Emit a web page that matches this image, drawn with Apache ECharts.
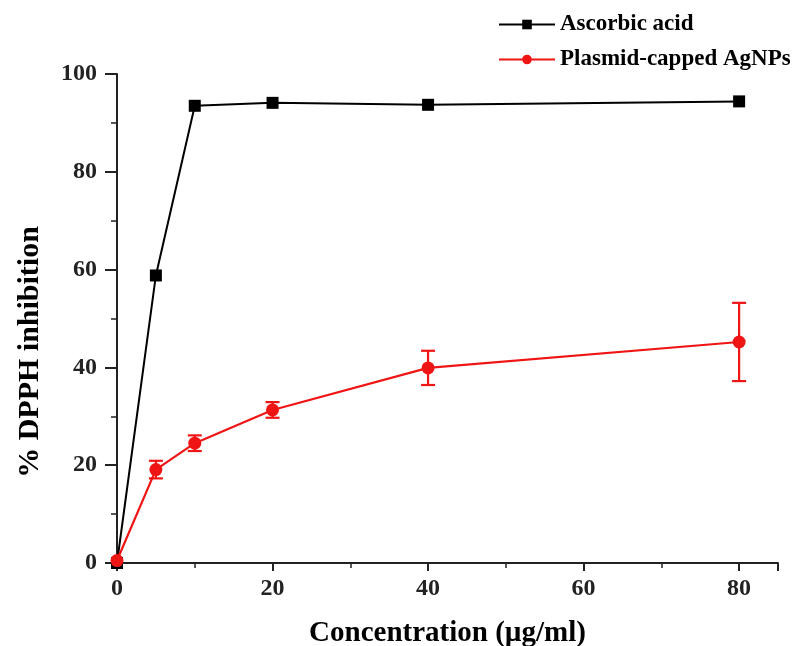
<!DOCTYPE html>
<html><head><meta charset="utf-8">
<script src="https://cdn.jsdelivr.net/npm/echarts@6/dist/echarts.min.js"></script>
<style>html,body{margin:0;padding:0;background:#fff}#c{width:800px;height:646px}</style>
</head><body><div id="c"></div>
<script>
var concentrations = [0, 5, 10, 20, 40, 80];
var ascorbicAcid = [0, 58.8, 93.5, 94.1, 93.7, 94.4];
var agnps = [0.5, 19.1, 24.5, 31.3, 39.9, 45.2];
var agnpsErr = [0, 1.8, 1.6, 1.6, 3.5, 8.0];
var seriesNames = ['Ascorbic acid', 'Plasmid-capped AgNPs'];
var xTitle = 'Concentration (\u00b5g/ml)';
var yTitle = '% DPPH inhibition';

var font = '"Liberation Serif","Times New Roman",serif';
var ascData = concentrations.map(function(x,i){return [x, ascorbicAcid[i]];});
var agData = concentrations.map(function(x,i){return [x, agnps[i]];});
var errData = concentrations.map(function(x,i){return [x, agnps[i]-agnpsErr[i], agnps[i]+agnpsErr[i]];}).filter(function(d,i){return agnpsErr[i]>0;});

var chart = echarts.init(document.getElementById('c'));
chart.setOption({
  animation:false,
  backgroundColor:'#fff',
  grid:{left:117,right:22,top:74,bottom:83,containLabel:false,outerBoundsMode:'none'},
  legend:{
    orient:'vertical', left:493, top:8, itemGap:12, itemWidth:56, itemHeight:12,
    textStyle:{fontFamily:font, fontWeight:'bold', fontSize:23, color:'#000'},
    data:seriesNames
  },
  graphic:[{
    type:'text', x:30, y:352, rotation:Math.PI/2,
    style:{text:yTitle, fontFamily:font, fontWeight:'bold', fontSize:30, fill:'#000',
      textAlign:'center', textVerticalAlign:'middle'}
  }],
  xAxis:{
    type:'value', min:0, max:85, interval:20,
    name:xTitle, nameLocation:'middle', nameGap:56,
    nameTextStyle:{fontFamily:font, fontWeight:'bold', fontSize:29, color:'#000'},
    axisLine:{lineStyle:{color:'#222', width:2}},
    axisTick:{length:8, lineStyle:{color:'#222', width:2}},
    minorTick:{show:true, splitNumber:2, length:5, lineStyle:{color:'#222', width:1.5}},
    splitLine:{show:false},
    axisLabel:{fontFamily:font, fontWeight:'bold', fontSize:24, color:'#222', margin:14,
      formatter:function(v){return v>80?'':v;}}
  },
  yAxis:{
    type:'value', min:0, max:100, interval:20,
    axisLine:{show:true, lineStyle:{color:'#222', width:2}},
    axisTick:{show:true, length:12, lineStyle:{color:'#222', width:2}},
    minorTick:{show:true, splitNumber:2, length:6, lineStyle:{color:'#222', width:1.5}},
    splitLine:{show:false},
    axisLabel:{fontFamily:font, fontWeight:'bold', fontSize:24, color:'#222', margin:20}
  },
  series:[
    {name:seriesNames[0], type:'line', data:ascData, symbol:'rect', symbolSize:12,
     itemStyle:{color:'#000'}, lineStyle:{color:'#000', width:2}, z:3},
    {name:seriesNames[1], type:'line', data:agData, symbol:'circle', symbolSize:13,
     itemStyle:{color:'#f01515'}, lineStyle:{color:'#f01515', width:2.2}, z:4},
    {name:'err', type:'custom', data:errData, z:5,
     renderItem:function(params, api){
       var x = api.value(0);
       var lo = api.coord([x, api.value(1)]);
       var hi = api.coord([x, api.value(2)]);
       var w = 7;
       var st = {stroke:'#f01515', lineWidth:2.2};
       return {type:'group', children:[
         {type:'line', shape:{x1:lo[0],y1:lo[1],x2:hi[0],y2:hi[1]}, style:st},
         {type:'line', shape:{x1:lo[0]-w,y1:lo[1],x2:lo[0]+w,y2:lo[1]}, style:st},
         {type:'line', shape:{x1:hi[0]-w,y1:hi[1],x2:hi[0]+w,y2:hi[1]}, style:st}
       ]};
     }}
  ]
});
</script></body></html>
